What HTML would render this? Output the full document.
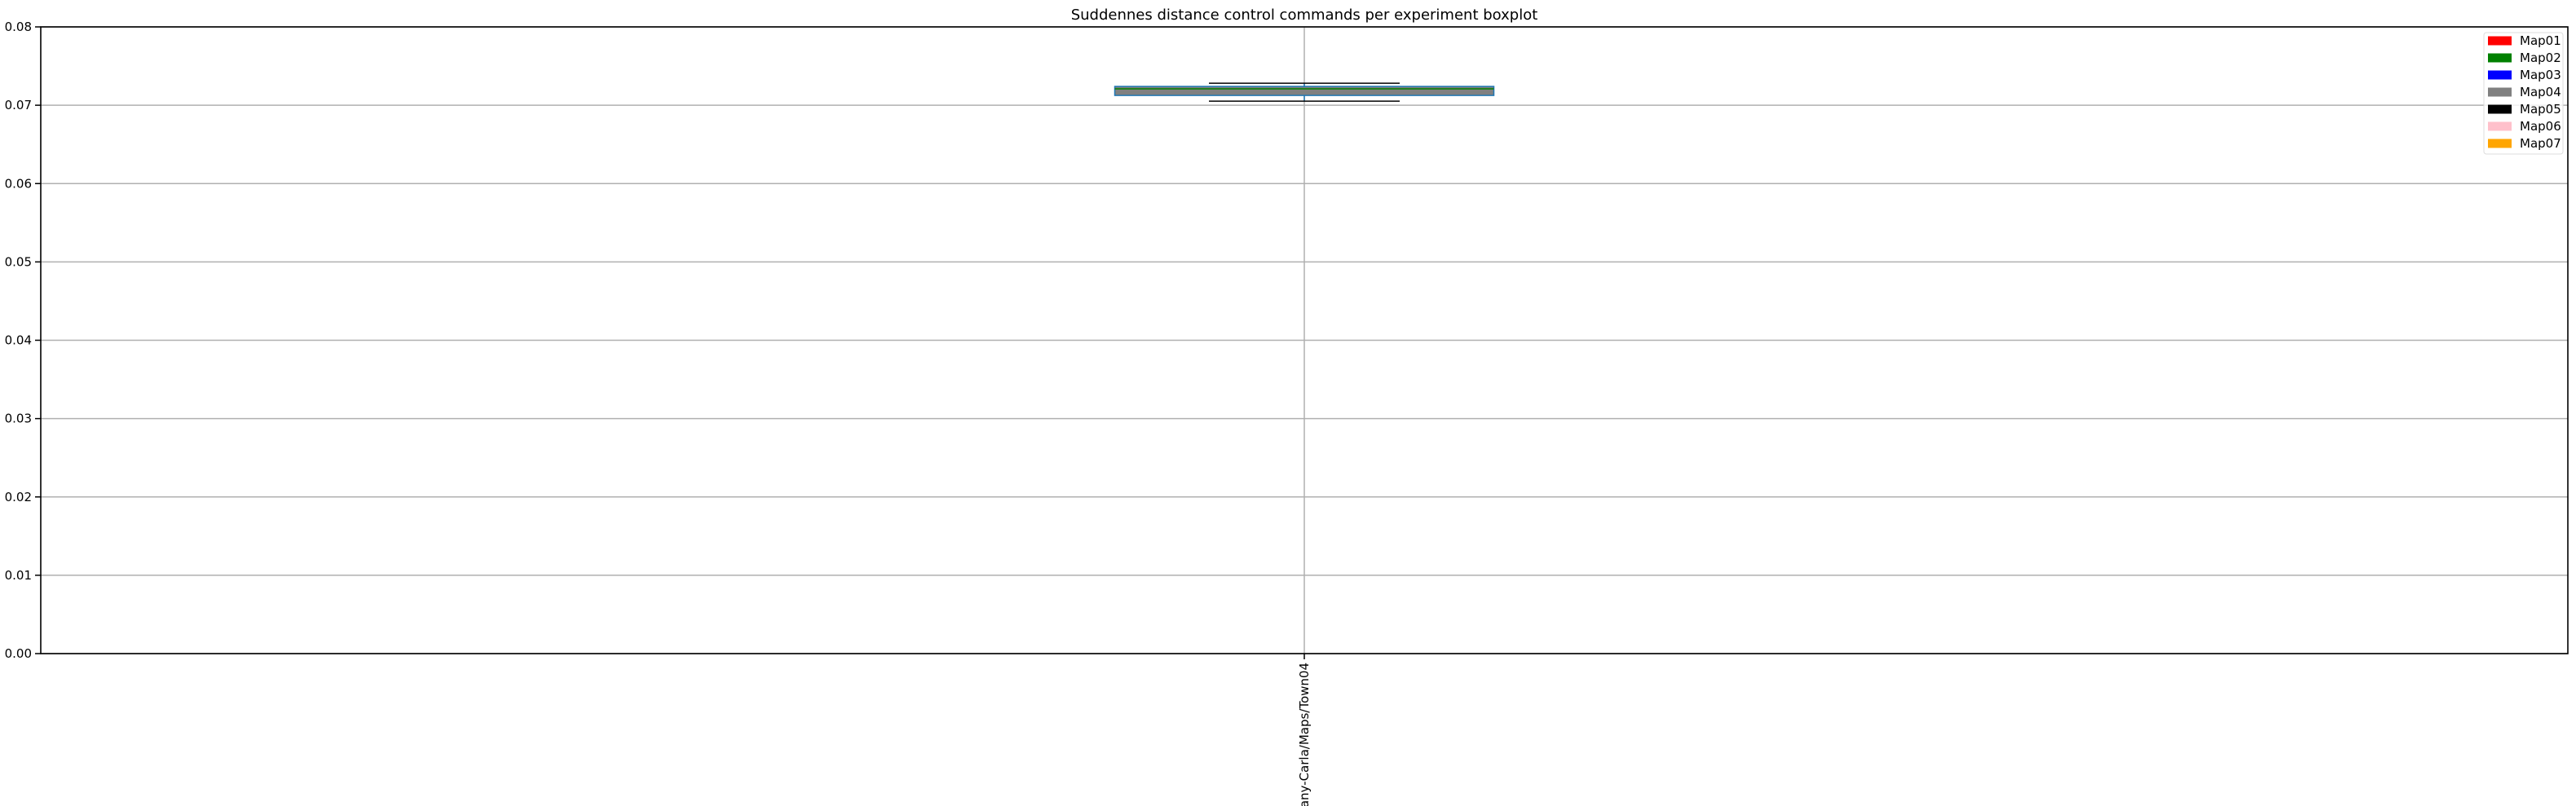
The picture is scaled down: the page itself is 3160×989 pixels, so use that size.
<!DOCTYPE html>
<html><head><meta charset="utf-8"><style>
html,body{margin:0;padding:0;background:#fff;}
svg{display:block;font-family:"DejaVu Sans","Liberation Sans",sans-serif;}
</style></head><body>
<svg id="chart" width="3160" height="989">
<text x="1600" y="24" font-size="18" text-anchor="middle">Suddennes distance control commands per experiment boxplot</text>
<g id="grid"></g><g id="marks"></g><g id="axes"></g>
<g id="legend"></g>
</svg>
<script>
const categories = ["any-Carla/Maps/Town04"];
const whiskerLow = [0.07052];
const q1 = [0.07125];
const median = [0.0721];
const q3 = [0.0724];
const whiskerHigh = [0.07281];
const yTicks = [0, 0.01, 0.02, 0.03, 0.04, 0.05, 0.06, 0.07, 0.08];
const yTickLabels = ["0.00","0.01","0.02","0.03","0.04","0.05","0.06","0.07","0.08"];
const legendLabels = ["Map01","Map02","Map03","Map04","Map05","Map06","Map07"];
const legendColors = ["red","green","blue","gray","black","pink","orange"];

const NS="http://www.w3.org/2000/svg";
const L=50,R=3150,T=33,B=802;
const y=v=>B-(v-0)/(0.08-0)*(B-T);
const x=i=>L+(i+0.5)*(R-L)/categories.length;
function mk(tag,attrs,parent){const e=document.createElementNS(NS,tag);for(const k in attrs)e.setAttribute(k,attrs[k]);parent.appendChild(e);return e;}
const grid=document.getElementById('grid'),marks=document.getElementById('marks'),axes=document.getElementById('axes'),legend=document.getElementById('legend');

yTicks.forEach((t,i)=>{
  const g=mk('line',{x1:L,x2:R,y1:y(t),y2:y(t),stroke:'#b0b0b0','stroke-width':1.5},grid);
  
  
  mk('line',{x1:L-7,x2:L,y1:y(t),y2:y(t),stroke:'#000','stroke-width':1.5},axes);
  const lb=mk('text',{x:L-11,y:y(t)+5,'font-size':15,'text-anchor':'end'},axes);
  lb.textContent=yTickLabels[i];
  
  
});
categories.forEach((c,i)=>{
  const cx=x(i);
  const gl=mk('line',{x1:cx,x2:cx,y1:T,y2:B,stroke:'#b0b0b0','stroke-width':1.5},grid);
  
  
  mk('line',{x1:cx,x2:cx,y1:B,y2:B+7,stroke:'#000','stroke-width':1.5},axes);
  const lb=mk('text',{x:0,y:0,'font-size':15,'text-anchor':'end',transform:`translate(${cx+5},${B+11}) rotate(-90)`},axes);
  lb.textContent=c;
  
  
  const bw=465,cw=234;
  const g=mk('g',{},marks);
  
  
  mk('line',{x1:cx,x2:cx,y1:y(whiskerHigh[i]),y2:y(q3[i]),stroke:'#1f77b4','stroke-width':1.5},g);
  mk('line',{x1:cx,x2:cx,y1:y(q1[i]),y2:y(whiskerLow[i]),stroke:'#1f77b4','stroke-width':1.5},g);
  mk('line',{x1:cx-cw/2,x2:cx+cw/2,y1:y(whiskerHigh[i]),y2:y(whiskerHigh[i]),stroke:'#000','stroke-width':1.5},g);
  mk('line',{x1:cx-cw/2,x2:cx+cw/2,y1:y(whiskerLow[i]),y2:y(whiskerLow[i]),stroke:'#000','stroke-width':1.5},g);
  mk('rect',{x:cx-bw/2,y:y(q3[i]),width:bw,height:y(q1[i])-y(q3[i]),fill:'#808080',stroke:'#1f77b4','stroke-width':1.5},g);
  mk('line',{x1:cx-bw/2,x2:cx+bw/2,y1:y(median[i]),y2:y(median[i]),stroke:'green','stroke-width':1.5},g);
});
mk('rect',{x:L,y:T,width:R-L,height:B-T,fill:'none',stroke:'#000','stroke-width':1.6},axes);

mk('rect',{x:3047,y:40,width:97,height:149,fill:'#fff','fill-opacity':0.8,stroke:'#ddd','stroke-width':1,rx:3},legend);
legendLabels.forEach((lab,i)=>{
  const cy=50+i*21;
  const r=mk('rect',{x:3052,y:cy-5.5,width:29,height:11,fill:legendColors[i]},legend);
  
  
  const t=mk('text',{x:3091,y:cy+5,'font-size':15},legend);
  t.textContent=lab;
  
  
});
</script>
</body></html>
